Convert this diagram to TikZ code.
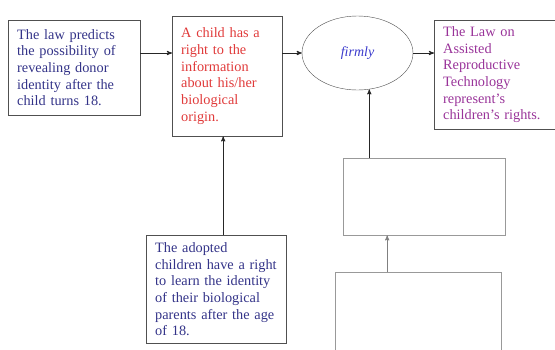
\documentclass[tikz,border=0pt]{standalone}
\usepackage{fontspec}
\setmainfont{Liberation Serif}
\usepackage{tikz}
\usetikzlibrary{
        arrows,
        positioning,
        shapes
    }
\definecolor{lawblue}{HTML}{333388}
\definecolor{childred}{HTML}{E03A3A}
\definecolor{firmblue}{HTML}{3A3ACC}
\definecolor{artpurple}{HTML}{993399}
\definecolor{boxgray}{HTML}{505050}
\tikzset{>=stealth',line width=0.75pt}
\tikzset{
    txtbox/.style={draw=boxgray,rectangle,anchor=north west,align=left,
        inner xsep=9pt,inner ysep=0pt,font=\fontsize{14.3}{16.7}\selectfont},
    emptybox/.style={draw=gray!80,rectangle,anchor=north west,inner sep=0pt},
    flow/.style={->,draw=black!85,line width=0.85pt}
}

\begin{document}
\begin{tikzpicture}[x=1pt,y=-1pt]
                    \useasboundingbox (0,0) rectangle (555,349);
                    \clip (0,0) rectangle (555,349);
                    \node[txtbox,text=lawblue,text width=114pt,minimum height=95pt] (law) at (8,20)
                        {The law predicts\\the possibility of\\revealing donor\\identity after the\\child turns 18.};
                    \node[txtbox,text=childred,text width=92pt,minimum height=120pt] (child) at (172,16)
                        {A child has a\\right to the\\information\\about his/her\\biological\\origin.\\[8pt]};
                    \node[ellipse,draw=boxgray,minimum width=111pt,minimum height=74pt,inner sep=0pt,
                        text=firmblue,font=\fontsize{14}{16}\selectfont\itshape] (firm) at (357.5,53) {firmly};
                    \node[txtbox,text=artpurple,text width=107pt,minimum height=109pt] (art) at (434,20)
                        {The Law on\\Assisted\\Reproductive\\Technology\\represent’s\\children’s rights.};
                    \node[txtbox,text=lawblue,text width=122pt,minimum height=108pt] (adopt) at (146,235)
                        {The adopted\\children have a right\\to learn the identity\\of their biological\\parents after the age\\of 18.};
                    \node[emptybox,minimum width=162pt,minimum height=77pt] (blankA) at (343,158) {};
                    \node[emptybox,minimum width=166pt,minimum height=100pt] (blankB) at (335,272) {};
                    \coordinate (childin) at ([xshift=-4pt]child.south);
                    \coordinate (blankin) at ([xshift=-31pt]blankB.north);
                    \draw[flow] (law.east |- firm.west) -- (child.west |- firm.west);
                    \draw[flow] (child.east |- firm.west) -- (firm.west);
                    \draw[flow] (firm.east) -- (art.west |- firm.east);
                    \draw[flow] (blankA.north -| firm.-72) -- (firm.-72);
                    \draw[flow] (childin |- adopt.north) -- (childin);
                    \draw[flow,draw=gray] (blankin) -- (blankin |- blankA.south);
                \end{tikzpicture}
\end{document}
